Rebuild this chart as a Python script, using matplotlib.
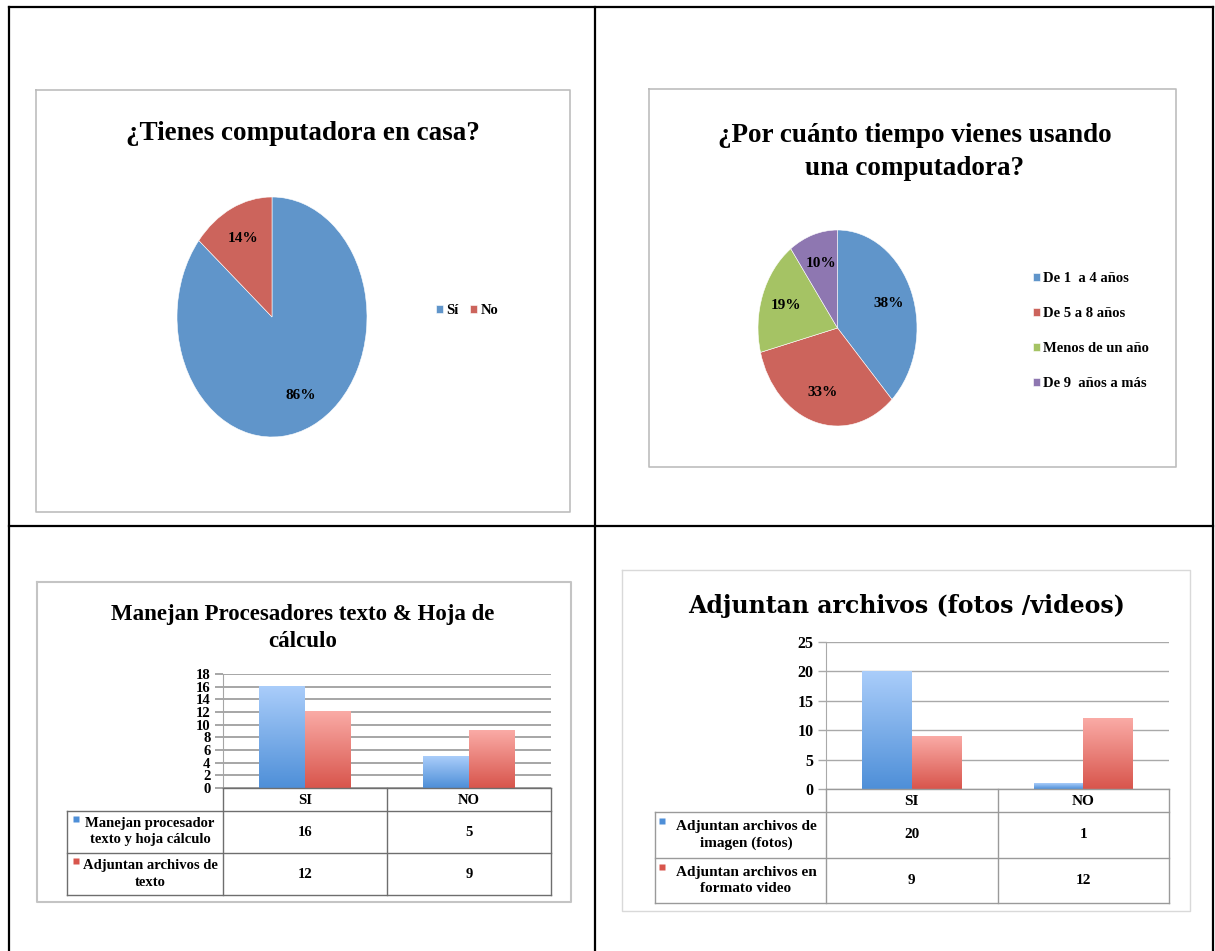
import numpy as np
import matplotlib
matplotlib.use('Agg')
import matplotlib.pyplot as plt
from matplotlib.colors import LinearSegmentedColormap

# ---------------- data ----------------
pie1_title = '¿Tienes computadora en casa?'
pie1_labels = ['Sí', 'No']
pie1_values = [86, 14]

pie2_title = '¿Por cuánto tiempo vienes usando\nuna computadora?'
pie2_labels = ['De 1  a 4 años', 'De 5 a 8 años', 'Menos de un año', 'De 9  años a más']
pie2_values = [38, 33, 19, 10]

bar1_title = 'Manejan Procesadores texto & Hoja de\ncálculo'
bar1_categories = ['SI', 'NO']
bar1_series = ['Manejan procesador\ntexto y hoja cálculo', 'Adjuntan archivos de\ntexto']
bar1_proc = [16, 5]
bar1_adj = [12, 9]
bar1_yticks = [0, 2, 4, 6, 8, 10, 12, 14, 16, 18]

bar2_title = 'Adjuntan archivos (fotos /videos)'
bar2_categories = ['SI', 'NO']
bar2_series = ['Adjuntan archivos de\nimagen (fotos)', 'Adjuntan archivos en\nformato video']
bar2_img = [20, 1]
bar2_vid = [9, 12]
bar2_yticks = [0, 5, 10, 15, 20, 25]

# ---------------- style ----------------
W, H = 1215, 951
SERIF = 'Liberation Serif'
PIE_BLUE = '#6095CA'
PIE_RED = '#CC645C'
PIE_GREEN = '#A5C364'
PIE_PURPLE = '#8E77B1'
BLUE_TOP, BLUE_BOT = '#AACDFA', '#4E8FD8'
RED_TOP, RED_BOT = '#FAABA6', '#D8554C'

fig = plt.figure(figsize=(W / 100, H / 100), dpi=100)


def box(l, t, r, b):
    return fig.add_axes([l / W, 1 - b / H, (r - l) / W, (b - t) / H])


bg = fig.add_axes([0, 0, 1, 1], zorder=-10)
bg.set_xlim(0, W)
bg.set_ylim(H, 0)
bg.axis('off')

# outer table grid
for xs, ys in [([9, 9], [7, H]), ([1213, 1213], [7, H]), ([9, 1213], [7, 7]),
               ([595, 595], [7, H]), ([9, 1213], [526, 526])]:
    bg.plot(xs, ys, color='black', lw=1.6, solid_capstyle='projecting')


def frame(l, t, r, b, color, lw):
    bg.plot([l, r, r, l, l], [t, t, b, b, t], color=color, lw=lw)


frame(36, 90, 570, 512, '#BDBDBD', 1.2)
frame(649, 89, 1176, 467, '#BDBDBD', 1.2)
frame(37, 582, 571, 902, '#C4C4C4', 1.5)
frame(622, 570, 1190, 911, '#D9D9D9', 1.0)

tfont = dict(family=SERIF, weight='bold')

# ---------------- pie 1 ----------------
bg.text(303, 133, pie1_title, ha='center', va='center', fontsize=19.5, **tfont)
ax = box(177, 197, 367, 437)
w1, _, at1 = ax.pie(pie1_values, colors=[PIE_BLUE, PIE_RED], startangle=90, counterclock=False,
                    autopct=lambda p: f'{p:.0f}%', pctdistance=0.72,
                    wedgeprops=dict(linewidth=0.4, edgecolor='white'),
                    textprops=dict(family=SERIF, weight='bold', size=11, color='black'))
ax.set_aspect('auto')
ax.set_xlim(-1, 1)
ax.set_ylim(-1, 1)
fig.legend(w1, pie1_labels, loc='center left', bbox_to_anchor=(436 / W, 1 - 311 / H),
           ncol=2, frameon=False, borderpad=0, borderaxespad=0, handlelength=0.45,
           handleheight=0.45, handletextpad=0.25, columnspacing=0.8,
           prop=dict(family=SERIF, weight='bold', size=10.5))

# ---------------- pie 2 ----------------
bg.text(915, 152, pie2_title, ha='center', va='center', fontsize=19.5, linespacing=1.45, **tfont)
ax = box(758, 230, 917, 426)
w2, _, at2 = ax.pie(pie2_values, colors=[PIE_BLUE, PIE_RED, PIE_GREEN, PIE_PURPLE], startangle=90,
                    counterclock=False, autopct=lambda p: f'{p:.0f}%', pctdistance=0.69,
                    wedgeprops=dict(linewidth=0.4, edgecolor='white'),
                    textprops=dict(family=SERIF, weight='bold', size=11, color='black'))
ax.set_aspect('auto')
ax.set_xlim(-1, 1)
ax.set_ylim(-1, 1)
fig.legend(w2, pie2_labels, loc='center left', bbox_to_anchor=(1033 / W, 1 - 331 / H),
           ncol=1, frameon=False, borderpad=0, borderaxespad=0, handlelength=0.45,
           handleheight=0.45, handletextpad=0.25, labelspacing=1.5,
           prop=dict(family=SERIF, weight='bold', size=10.5))


# ---------------- bar charts with data table ----------------
def gradient_fill(ax, bars, top, bottom):
    cmap = LinearSegmentedColormap.from_list('g', [bottom, top])
    grad = np.linspace(0, 1, 256).reshape(-1, 1)
    for b in bars:
        x0, y0 = b.get_xy()
        ax.imshow(grad, extent=[x0, x0 + b.get_width(), y0, y0 + b.get_height()],
                  origin='lower', aspect='auto', cmap=cmap, zorder=2, interpolation='bilinear')
        b.set_facecolor('none')
        b.set_edgecolor('none')


def bar_chart(plot_box, table_box, header_h, row_h, cats, series_names, s1, s2, yticks,
              bar_w, grid_color, grid_lw, tab_color, tick_size, tab_size, label_cx, key_x):
    l, t, r, b = plot_box
    ax = box(l, t, r, b)
    x = np.arange(len(cats))
    b1 = ax.bar(x - bar_w / 2, s1, bar_w, zorder=2)
    b2 = ax.bar(x + bar_w / 2, s2, bar_w, zorder=2)
    gradient_fill(ax, b1, BLUE_TOP, BLUE_BOT)
    gradient_fill(ax, b2, RED_TOP, RED_BOT)
    ax.set_xlim(-0.5, len(cats) - 0.5)
    ax.set_ylim(yticks[0], yticks[-1])
    ax.set_yticks(yticks)
    ax.set_yticklabels([str(v) for v in yticks], family=SERIF, weight='bold', size=tick_size)
    ax.set_xticks([])
    ax.yaxis.grid(True, color=grid_color, lw=grid_lw, zorder=0)
    ax.set_axisbelow(True)
    for s in ['top', 'right', 'bottom']:
        ax.spines[s].set_visible(False)
    ax.spines['left'].set_color(grid_color)
    ax.tick_params(axis='y', length=6, color=grid_color, width=grid_lw, pad=3)
    ax.patch.set_alpha(0)

    # data table
    tl, tt, tr, tb = table_box
    unit = (r - l) / len(cats)
    xleft = -0.5 - (l - tl) / unit
    tab = box(tl, tt, tr, tb)
    tab.set_xlim(xleft, len(cats) - 0.5)
    total = header_h + row_h * len(series_names)
    tab.set_ylim(total, 0)
    tab.axis('off')
    kw = dict(color=tab_color, lw=1.0, clip_on=False)
    for xv in np.arange(len(cats) + 1) - 0.5:
        tab.plot([xv, xv], [0, total], **kw)
    tab.plot([xleft, xleft], [header_h, total], **kw)
    tab.plot([-0.5, len(cats) - 0.5], [0, 0], **kw)
    for k in range(len(series_names) + 1):
        yv = header_h + row_h * k
        tab.plot([xleft, len(cats) - 0.5], [yv, yv], **kw)
    tfk = dict(family=SERIF, weight='bold', size=tab_size, ha='center', va='center')
    for i, c in enumerate(cats):
        tab.text(i, header_h / 2 + 1, c, **tfk)
    cx = xleft + (label_cx - tl) / unit
    kx = xleft + (key_x - tl) / unit
    for k, (name, vals, col) in enumerate(zip(series_names, [s1, s2], [BLUE_BOT, RED_BOT])):
        yc = header_h + row_h * (k + 0.5)
        for i, v in enumerate(vals):
            tab.text(i, yc, str(v), **tfk)
        tab.text(cx, yc, name, linespacing=1.3, **tfk)
        tab.plot([kx], [yc - row_h * 0.3], marker='s', ms=4.5, color=col, mec='none', clip_on=False)
    return ax


bg.text(303, 628, bar1_title, ha='center', va='center', fontsize=16.5, linespacing=1.35, **tfont)
bar_chart((223, 674, 551, 788), (67, 788, 551, 895), 23, 42, bar1_categories, bar1_series,
          bar1_proc, bar1_adj, bar1_yticks, 0.28, '#A6A6A6', 1.4, '#6E6E6E', 10.5, 10.5, 150, 76)

bg.text(907, 606, bar2_title, ha='center', va='center', fontsize=17, family='DejaVu Serif', weight='bold')
bar_chart((826, 642, 1169, 789), (655, 789, 1169, 903), 23, 45.5, bar2_categories, bar2_series,
          bar2_img, bar2_vid, bar2_yticks, 0.289, '#A9A9A9', 1.0, '#9A9A9A', 11.5, 11, 746, 662)

fig.savefig('out.png', dpi=100, facecolor='white')
